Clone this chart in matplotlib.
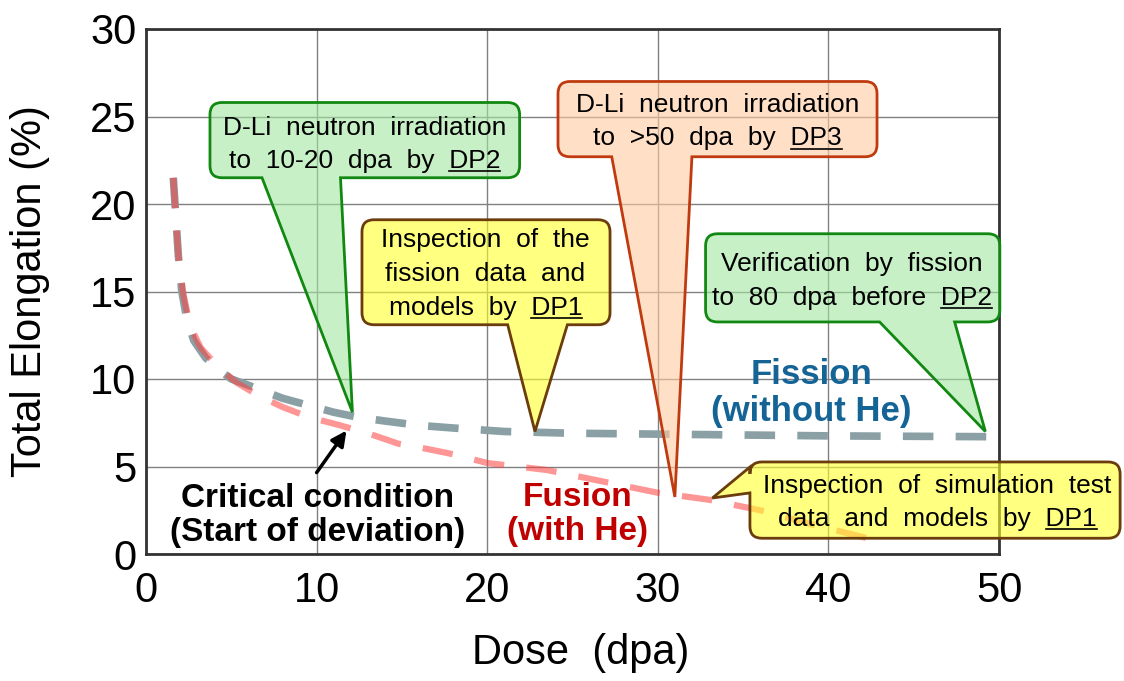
import matplotlib
matplotlib.use("Agg")
import matplotlib.pyplot as plt
from matplotlib.path import Path
from matplotlib.patches import PathPatch
from matplotlib.lines import Line2D

plt.rcParams['font.family'] = ['Liberation Sans', 'DejaVu Sans']
plt.rcParams['lines.scale_dashes'] = False

# Curves (dose in dpa, total elongation in %)
fission_x = [1.6, 1.9, 2.1, 2.4, 2.8, 3.5, 4.3, 5.0, 6.4, 8.0, 9.5, 11.0, 12.5,
             14.0, 16.0, 18.0, 21.0, 25.0, 30.0, 40.0, 50.0]
fission_y = [21.5, 17.0, 15.0, 13.4, 12.2, 11.2, 10.5, 10.0, 9.5, 8.9, 8.5, 8.1, 7.8,
             7.6, 7.35, 7.2, 7.0, 6.9, 6.85, 6.75, 6.7]

fusion_x = [1.6, 1.9, 2.2, 2.6, 3.2, 4.2, 5.3, 6.5, 8.0, 9.6, 11.2, 13.0,
            14.8, 16.5, 18.0, 20.0, 23.5, 27.0, 30.0, 33.0, 36.0, 39.0, 42.3]
fusion_y = [21.5, 17.0, 14.8, 13.0, 11.8, 10.7, 9.8, 9.1, 8.4, 7.8, 7.4, 6.9,
            6.3, 6.0, 5.7, 5.2, 4.8, 4.1, 3.5, 3.1, 2.5, 1.7, 0.9]

x_ticks = [0, 10, 20, 30, 40, 50]
y_ticks = [0, 5, 10, 15, 20, 25, 30]

fig = plt.figure(figsize=(11.24, 6.81), dpi=100)
ax = fig.add_axes([146/1124, 1 - 554/681, (999 - 146)/1124, (554 - 29)/681])
ax.set_xlim(0, 50)
ax.set_ylim(0, 30)
ax.set_xticks(x_ticks)
ax.set_yticks(y_ticks)
ax.grid(True, color='#808080', lw=1.0)
ax.set_axisbelow(True)
ax.tick_params(axis='both', length=0, labelsize=30)
ax.tick_params(axis='y', pad=7)
ax.tick_params(axis='x', pad=12)
for s in ax.spines.values():
    s.set_linewidth(2)
    s.set_color('#333333')

ax.set_xlabel('Dose  (dpa)', fontsize=30)
ax.set_ylabel('Total Elongation (%)', fontsize=30)
ax.xaxis.set_label_coords(0.51, -0.15)
ax.yaxis.set_label_coords(-0.113, 0.5)

# curves
ax.plot(fission_x, fission_y, color='#8aa0a4', lw=5.5, dashes=(22, 16), zorder=2)
ax.plot(fusion_x, fusion_y, color=(1, 0.25, 0.25), alpha=0.55, lw=4.5,
        dashes=(22, 16), zorder=2.1)


def callout(x0, x1, y0, y1, side, b0, b1, tip, face, edge, r=12):
    p0 = ax.transData.transform((0, 0))
    p1 = ax.transData.transform((1, 1))
    rx, ry = r / (p1[0] - p0[0]), r / (p1[1] - p0[1])
    L, C = Path.LINETO, Path.CURVE3
    v = [(x0 + rx, y0)]
    c = [Path.MOVETO]
    if side == 'bottom':
        v += [(b0, y0), tip, (b1, y0)]
        c += [L, L, L]
    v += [(x1 - rx, y0), (x1, y0), (x1, y0 + ry),
          (x1, y1 - ry), (x1, y1), (x1 - rx, y1),
          (x0 + rx, y1), (x0, y1), (x0, y1 - ry)]
    c += [L, C, C, L, C, C, L, C, C]
    if side == 'left':
        v += [(x0, b0), tip, (x0, b1)]
        c += [L, L, L]
    v += [(x0, y0 + ry), (x0, y0), (x0 + rx, y0), (x0 + rx, y0)]
    c += [L, C, C, Path.CLOSEPOLY]
    patch = PathPatch(Path(v, c), facecolor=face, edgecolor=edge, lw=2,
                      zorder=3, clip_on=False)
    ax.add_patch(patch)


green_face = (0.64, 0.90, 0.64, 0.6)
green_edge = '#118811'
yellow_face = (1.0, 1.0, 0.17, 0.6)
yellow_edge = '#6b3c0c'
orange_face = (1.0, 0.80, 0.64, 0.6)
orange_edge = '#c03a10'

callout(3.75, 21.9, 21.5, 25.8, 'bottom', 6.8, 11.4, (12.1, 8.1), green_face, green_edge)
callout(12.66, 27.2, 13.1, 19.1, 'bottom', 21.2, 24.7, (22.8, 7.0), yellow_face, yellow_edge)
callout(24.15, 42.85, 22.7, 27.0, 'bottom', 27.3, 32.0, (31.0, 3.26), orange_face, orange_edge)
callout(32.8, 50.05, 13.26, 18.3, 'bottom', 43.0, 47.4, (49.2, 7.0), green_face, green_edge)
callout(35.4, 57.1, 0.9, 5.26, 'left', 4.97, 3.49, (33.2, 3.2), yellow_face, yellow_edge)

box_kw = dict(fontsize=19, ha='center', va='center', linespacing=1.5, zorder=4,
              clip_on=False)
t1 = ax.text(12.8, 23.4, 'D-Li  neutron  irradiation\nto  10-20  dpa  by  DP2', **box_kw)
t2 = ax.text(19.9, 16.0, 'Inspection  of  the\nfission  data  and\nmodels  by  DP1', **box_kw)
t3 = ax.text(33.5, 24.7, 'D-Li  neutron  irradiation\nto  >50  dpa  by  DP3', **box_kw)
t4 = ax.text(41.4, 15.6, 'Verification  by  fission\nto  80  dpa  before  DP2', **box_kw)
t5 = ax.text(46.4, 2.95, 'Inspection  of  simulation  test\ndata  and  models  by  DP1', **box_kw)

lab_kw = dict(fontsize=24, fontweight='bold', ha='center', va='center',
              linespacing=1.15, zorder=4)
ax.text(10.08, 2.2, 'Critical condition\n(Start of deviation)', color='black', **lab_kw)
ax.text(25.3, 2.25, 'Fusion\n(with He)', color='#c00000', **lab_kw)
ax.text(39.0, 9.2, 'Fission\n(without He)', color='#146496',
        **dict(lab_kw, fontsize=25))

ax.annotate('', xy=(11.75, 7.05), xytext=(10.0, 4.65),
            arrowprops=dict(arrowstyle='-|>,head_width=0.45,head_length=0.9',
                            color='black', lw=2.5, shrinkA=0, shrinkB=0), zorder=4)

# underline the last word of each box text
fig.canvas.draw()
renderer = fig.canvas.get_renderer()
inv = fig.transFigure.inverted()
for t, word in [(t1, 'DP2'), (t2, 'DP1'), (t3, 'DP3'), (t4, 'DP2'), (t5, 'DP1')]:
    bb = t.get_window_extent(renderer)
    prop = t.get_fontproperties()
    last = t.get_text().split('\n')[-1]
    w_line, _, d = renderer.get_text_width_height_descent(last, prop, ismath=False)
    _, _, d_lp = renderer.get_text_width_height_descent('lp', prop, ismath=False)
    w_word = renderer.get_text_width_height_descent(word, prop, ismath=False)[0]
    cx = (bb.x0 + bb.x1) / 2
    right = cx + w_line / 2
    left = right - w_word
    base = bb.y0 + max(d, d_lp)
    yu = base - 3
    (fx0, fy), (fx1, _) = inv.transform([(left, yu), (right, yu)])
    fig.add_artist(Line2D([fx0, fx1], [fy, fy], color='black', lw=1.2, zorder=5))

fig.savefig('out.png', dpi=100)
